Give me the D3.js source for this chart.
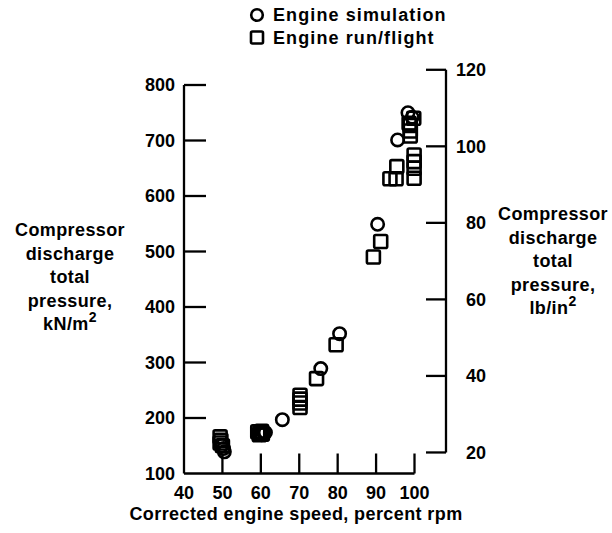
<!DOCTYPE html>
<html><head><meta charset="utf-8">
<script src="https://cdn.jsdelivr.net/npm/d3@7"></script>
<style>
body{margin:0;background:#fff;}
text{font-family:"Liberation Sans",Arial,Helvetica,sans-serif;font-weight:bold;fill:#000;}
</style></head>
<body><svg id="c" width="612" height="533"></svg>
<script>
// Data: corrected engine speed (% rpm) vs compressor discharge total pressure (kN/m^2)
const simSpeed    = [50.5, 50.3, 49.9, 60.8, 60.2, 61.2, 65.6, 75.6, 80.5, 90.4, 95.6, 98.3, 99.4];
const simPressure = [139, 145, 150, 172, 170, 174, 197, 289, 352, 549, 701, 750, 742];
const runSpeed    = [49.4, 49.6, 49.4, 50, 59.2, 59.6, 60.2, 60.4, 59.8, 70.2, 70.2, 70.2, 70.2, 74.5, 79.6, 89.3, 91.2,
                     93.6, 95.2, 95.4, 99.9, 99.9, 99.9, 99.9, 98.9, 98.9, 98.9, 99.8, 98.6];
const runPressure = [166, 160, 155, 150, 175, 170, 176, 171, 173, 241, 234, 227, 219, 271, 332, 490, 518,
                     631, 631, 653, 632, 650, 662, 674, 727, 717, 708, 740, 731];
const xTicks = [40, 50, 60, 70, 80, 90, 100];
const yTicks = [100, 200, 300, 400, 500, 600, 700, 800];
const psiTicks = [20, 40, 60, 80, 100, 120];
const KPA_PER_PSI = 6.895;
const legendLabels = ["Engine simulation", "Engine run/flight"];
const xTitle = "Corrected engine speed, percent rpm";
const leftTitle = ["Compressor", "discharge", "total", "pressure,"];
const rightTitle = ["Compressor", "discharge", "total", "pressure,"];

const svg = d3.select("#c");
const x = d3.scaleLinear().domain([40, 100]).range([184, 414.5]);
const y = d3.scaleLinear().domain([100, 800]).range([473.5, 85]);
const yPsi = v => y(v * KPA_PER_PSI);
const SW = 2.3;

// Left axis
const g = svg.append("g").attr("stroke", "#000").attr("stroke-width", SW).attr("fill", "none");
g.append("line").attr("x1", x(40)).attr("x2", x(40)).attr("y1", y(800)).attr("y2", y(100));
g.append("line").attr("x1", x(40)).attr("x2", x(100)).attr("y1", y(100)).attr("y2", y(100));
yTicks.filter(d => d > 100).forEach(d => {
  g.append("line").attr("x1", x(40)).attr("x2", x(40) + 22).attr("y1", y(d)).attr("y2", y(d));
});
xTicks.filter(d => d > 40).forEach(d => {
  g.append("line").attr("x1", x(d)).attr("x2", x(d)).attr("y1", y(100)).attr("y2", y(100) - 20);
});
// Right axis
const rx = 446;
g.append("line").attr("x1", rx).attr("x2", rx).attr("y1", yPsi(120)).attr("y2", yPsi(20));
psiTicks.forEach(d => {
  g.append("line").attr("x1", rx - 20).attr("x2", rx).attr("y1", yPsi(d)).attr("y2", yPsi(d));
});

// Tick labels
const fs = 18;
svg.append("g").selectAll("text").data(yTicks).join("text")
  .attr("x", 175).attr("y", d => y(d)).attr("dy", "0.36em")
  .attr("text-anchor", "end").attr("font-size", fs).text(d => d);
svg.append("g").selectAll("text").data(xTicks).join("text")
  .attr("x", d => x(d)).attr("y", 499)
  .attr("text-anchor", "middle").attr("font-size", fs).text(d => d);
svg.append("g").selectAll("text").data(psiTicks).join("text")
  .attr("x", 486).attr("y", d => yPsi(d)).attr("dy", "0.36em")
  .attr("text-anchor", "end").attr("font-size", fs).text(d => d);

// Axis titles
svg.append("text").attr("x", 296).attr("y", 520).attr("text-anchor", "middle")
  .attr("font-size", fs).attr("letter-spacing", 0.4).text(xTitle);
const lt = svg.append("text").attr("text-anchor", "middle").attr("font-size", fs).attr("letter-spacing", 0.4);
leftTitle.forEach((s, i) => lt.append("tspan").attr("x", 70).attr("y", 236 + i * 23.5).text(s));
lt.append("tspan").attr("x", 70).attr("y", 236 + 4 * 23.5).text("kN/m");
lt.append("tspan").attr("dy", -8).attr("font-size", 14).text("2");
const rt = svg.append("text").attr("text-anchor", "middle").attr("font-size", fs).attr("letter-spacing", 0.4);
rightTitle.forEach((s, i) => rt.append("tspan").attr("x", 553).attr("y", 220 + i * 23.5).text(s));
rt.append("tspan").attr("x", 553).attr("y", 220 + 4 * 23.5).text("lb/in");
rt.append("tspan").attr("dy", -8).attr("font-size", 14).text("2");

// Markers
const sim = simSpeed.map((s, i) => ({s, p: simPressure[i]}));
const run = runSpeed.map((s, i) => ({s, p: runPressure[i]}));
const m = svg.append("g").attr("stroke", "#000").attr("stroke-width", 2.6).attr("fill", "none");
m.selectAll("rect").data(run).join("rect")
  .attr("x", d => x(d.s) - 6.5).attr("y", d => y(d.p) - 6.5)
  .attr("width", 13).attr("height", 13).attr("rx", 1.5);
m.selectAll("circle").data(sim).join("circle")
  .attr("cx", d => x(d.s)).attr("cy", d => y(d.p)).attr("r", 6.2);

// Legend
const lg = svg.append("g");
lg.append("circle").attr("cx", 257).attr("cy", 15).attr("r", 5.8)
  .attr("fill", "none").attr("stroke", "#000").attr("stroke-width", 2.6);
lg.append("rect").attr("x", 251).attr("y", 31.5).attr("width", 12).attr("height", 12).attr("rx", 1.5)
  .attr("fill", "none").attr("stroke", "#000").attr("stroke-width", 2.6);
lg.selectAll("text").data(legendLabels).join("text")
  .attr("x", 273).attr("y", (d, i) => 15 + i * 22.5).attr("dy", "0.36em")
  .attr("font-size", fs).attr("letter-spacing", 1.1).text(d => d);
</script></body></html>
